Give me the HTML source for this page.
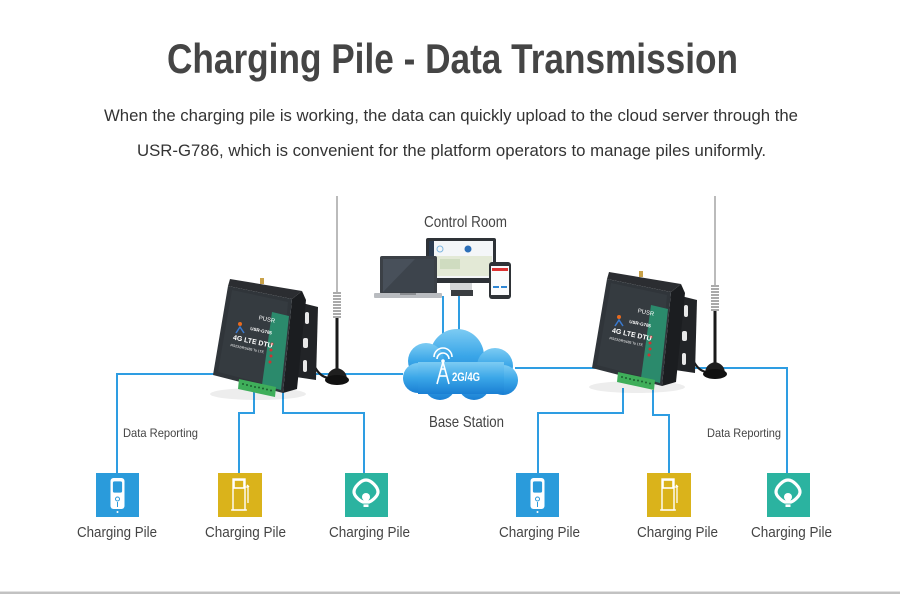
<!DOCTYPE html>
<html><head><meta charset="utf-8">
<style>
html,body{margin:0;padding:0;background:#fff;}
body{width:900px;height:597px;overflow:hidden;}
svg{display:block;}
text{font-family:"Liberation Sans",Arial,sans-serif;}
</style></head>
<body>
<svg width="900" height="597" viewBox="0 0 900 597" xmlns="http://www.w3.org/2000/svg">
<defs>
<linearGradient id="cg" x1="0" y1="0" x2="0" y2="1">
<stop offset="0" stop-color="#7ccbf3"/><stop offset="0.5" stop-color="#3aa6e8"/><stop offset="1" stop-color="#1a7fd3"/>
</linearGradient>
</defs>
<rect x="0" y="0" width="900" height="597" fill="#fff"/>
<rect x="0" y="591" width="900" height="1" fill="#e2e2e2"/>
<rect x="0" y="592" width="900" height="2" fill="#c2c2c2"/>

<!-- Title -->
<text x="167" y="73" font-size="42" font-weight="bold" fill="#454545" textLength="571" lengthAdjust="spacingAndGlyphs">Charging Pile - Data Transmission</text>
<text x="104" y="121" font-size="17" fill="#333" textLength="694" lengthAdjust="spacingAndGlyphs">When the charging pile is working, the data can quickly upload to the cloud server through the</text>
<text x="137" y="156" font-size="17" fill="#333" textLength="629" lengthAdjust="spacingAndGlyphs">USR-G786, which is convenient for the platform operators to manage piles uniformly.</text>

<!-- Connector lines -->
<g stroke="#2e9de2" stroke-width="2" fill="none">
<polyline points="117,473 117,374 403,374"/>
<polyline points="254,390 254,413 239,413 239,473"/>
<polyline points="283,392 283,413 364,413 364,473"/>
<line x1="443" y1="296" x2="443" y2="336"/>
<line x1="459" y1="296" x2="459" y2="334"/>
<polyline points="515,368 787,368 787,473"/>
<polyline points="623,388 623,413 538,413 538,473"/>
<polyline points="653,390 653,415 669,415 669,473"/>
</g>

<!-- Control Room -->
<text x="424" y="227" font-size="16" fill="#444" textLength="83" lengthAdjust="spacingAndGlyphs">Control Room</text>
<rect x="426" y="238" width="70" height="45" rx="2" fill="#2e3237"/>
<rect x="429" y="241" width="64" height="37" fill="#f4f6f8"/>
<rect x="429" y="241" width="5" height="37" fill="#2b3a4e"/>
<rect x="436" y="256" width="56" height="20" fill="#e3e9d6"/>
<rect x="440" y="259" width="20" height="10" fill="#cfdcc0"/>
<circle cx="440" cy="249" r="3" fill="none" stroke="#7fb7e0" stroke-width="1"/>
<circle cx="468" cy="249" r="3.5" fill="#2c6fb8"/>
<rect x="450" y="283" width="22" height="7" fill="#d4d6d8"/>
<rect x="451" y="290" width="22" height="6" fill="#3a3d41"/>
<rect x="380" y="256" width="57" height="38" rx="2" fill="#3b4046"/>
<rect x="383" y="259" width="51" height="33" fill="#48505a"/>
<polygon points="383,292 415,259 434,259 434,292" fill="#3d444c"/>
<rect x="374" y="293" width="68" height="5" rx="1" fill="#b9bcc0"/>
<rect x="400" y="293" width="16" height="2" fill="#8a8d91"/>
<rect x="489" y="262" width="22" height="37" rx="3" fill="#2f3337"/>
<rect x="491" y="266" width="18" height="29" fill="#fafbfc"/>
<rect x="492" y="268" width="16" height="3" fill="#d33"/>
<rect x="493" y="286" width="6" height="2" fill="#2e86d4"/>
<rect x="501" y="286" width="6" height="2" fill="#2e86d4"/>

<!-- Cloud -->
<g fill="url(#cg)">
<circle cx="457" cy="356" r="27"/>
<circle cx="426" cy="361" r="18"/>
<circle cx="495" cy="366" r="18"/>
<circle cx="418" cy="378" r="15"/>
<circle cx="503" cy="380" r="15"/>
<circle cx="440" cy="384" r="16"/>
<circle cx="474" cy="384" r="16"/>
<rect x="418" y="362" width="86" height="32"/>
</g>
<g stroke="#fff" fill="none" stroke-width="1.6">
<path d="M437,359 a6,6 0 0 1 12,0"/>
<path d="M434,357 a9,9 0 0 1 18,0"/>
<polyline points="437,384 443,362 449,384"/>
<line x1="439" y1="376" x2="447" y2="376"/>
<line x1="441" y1="369" x2="445" y2="369"/>
</g>
<circle cx="443" cy="361" r="1.8" fill="#fff"/>
<text x="452" y="381" font-size="12" font-weight="bold" fill="#fff" textLength="28" lengthAdjust="spacingAndGlyphs">2G/4G</text>
<text x="429" y="427" font-size="16" fill="#444" textLength="75" lengthAdjust="spacingAndGlyphs">Base Station</text>

<!-- Left antenna -->
<line x1="337" y1="196" x2="337" y2="292" stroke="#777" stroke-width="1"/>
<g stroke="#777" stroke-width="1.3" fill="none">
<path d="M333,293 h8 M333,296 h8 M333,299 h8 M333,302 h8 M333,305 h8 M333,308 h8 M333,311 h8 M333,314 h8 M333,317 h8"/>
</g>
<rect x="335.5" y="318" width="3" height="52" fill="#1a1a1a"/>
<path d="M305,340 C312,365 318,378 330,378" stroke="#1a1a1a" stroke-width="2.2" fill="none"/>
<path d="M327,380 q0,-10 10,-12 q10,2 10,12 z" fill="#1f1f1f"/>
<ellipse cx="337" cy="380" rx="12" ry="5" fill="#111"/>

<!-- Right antenna -->
<line x1="715" y1="196" x2="715" y2="285" stroke="#777" stroke-width="1"/>
<g stroke="#777" stroke-width="1.3" fill="none">
<path d="M711,286 h8 M711,289 h8 M711,292 h8 M711,295 h8 M711,298 h8 M711,301 h8 M711,304 h8 M711,307 h8 M711,310 h8"/>
</g>
<rect x="713.5" y="311" width="3" height="52" fill="#1a1a1a"/>
<path d="M686,334 C690,358 696,372 708,372" stroke="#1a1a1a" stroke-width="2.2" fill="none"/>
<path d="M705,374 q0,-10 10,-12 q10,2 10,12 z" fill="#1f1f1f"/>
<ellipse cx="715" cy="374" rx="12" ry="5" fill="#111"/>

<!-- Left device -->
<g>
<ellipse cx="258" cy="394" rx="48" ry="6" fill="#000" opacity="0.07"/>
<polygon points="298,302 318,307 316,380 296,377" fill="#222427"/>
<rect x="305" y="312" width="4" height="12" rx="2" fill="#e8e8e8"/>
<rect x="303" y="338" width="5" height="10" rx="2" fill="#e8e8e8"/>
<rect x="303" y="360" width="4" height="12" rx="2" fill="#e8e8e8"/>
<polygon points="292,299 302,291 306,300 297,389 283,393" fill="#1b1d20"/>
<polygon points="230,279 302,291 292,299 228,286" fill="#2b2d31"/>
<polygon points="228,286 292,299 283,393 213,375" fill="#30353a"/>
<polygon points="232,290 288,302 280,388 218,372" fill="#353b40"/>
<polygon points="272,312 289,316 281,390 262,385" fill="#2b8a6c"/>
<rect x="260" y="278" width="4" height="6" fill="#c9a24a"/>
<circle cx="272" cy="344" r="1.5" fill="#c33"/>
<circle cx="271" cy="350" r="1.5" fill="#c33"/>
<circle cx="271" cy="356" r="1.5" fill="#c33"/>
<circle cx="270" cy="362" r="1.5" fill="#c33"/>
<circle cx="240" cy="324" r="2" fill="#e86a1e"/>
<path d="M236,333 l4,-6 l4,6" stroke="#3a7ad0" stroke-width="1.5" fill="none"/>
<g transform="rotate(12 250 335)" fill="#fff">
<text x="255" y="318" font-size="6" font-family="Liberation Serif,serif">PUSR</text>
<text x="249" y="330" font-size="4.5" font-weight="bold">USR-G786</text>
<text x="234" y="343" font-size="7" font-weight="bold">4G LTE DTU</text>
<text x="233" y="350" font-size="3.5">RS232/RS485 To LTE</text>
</g>
<polygon points="239,379 276,387 275,397 238,389" fill="#3fae5a"/>
<g fill="#1d5e30">
<circle cx="243" cy="384" r="1"/><circle cx="247" cy="385" r="1"/><circle cx="251" cy="386" r="1"/><circle cx="255" cy="387" r="1"/><circle cx="259" cy="387.5" r="1"/><circle cx="263" cy="388.5" r="1"/><circle cx="267" cy="389.5" r="1"/><circle cx="271" cy="390.5" r="1"/>
</g>
</g>

<!-- Right device -->
<g transform="translate(379,-7)">
<ellipse cx="258" cy="394" rx="48" ry="6" fill="#000" opacity="0.07"/>
<polygon points="298,302 318,307 316,380 296,377" fill="#222427"/>
<rect x="305" y="312" width="4" height="12" rx="2" fill="#e8e8e8"/>
<rect x="303" y="338" width="5" height="10" rx="2" fill="#e8e8e8"/>
<rect x="303" y="360" width="4" height="12" rx="2" fill="#e8e8e8"/>
<polygon points="292,299 302,291 306,300 297,389 283,393" fill="#1b1d20"/>
<polygon points="230,279 302,291 292,299 228,286" fill="#2b2d31"/>
<polygon points="228,286 292,299 283,393 213,375" fill="#30353a"/>
<polygon points="232,290 288,302 280,388 218,372" fill="#353b40"/>
<polygon points="272,312 289,316 281,390 262,385" fill="#2b8a6c"/>
<rect x="260" y="278" width="4" height="6" fill="#c9a24a"/>
<circle cx="272" cy="344" r="1.5" fill="#c33"/>
<circle cx="271" cy="350" r="1.5" fill="#c33"/>
<circle cx="271" cy="356" r="1.5" fill="#c33"/>
<circle cx="270" cy="362" r="1.5" fill="#c33"/>
<circle cx="240" cy="324" r="2" fill="#e86a1e"/>
<path d="M236,333 l4,-6 l4,6" stroke="#3a7ad0" stroke-width="1.5" fill="none"/>
<g transform="rotate(12 250 335)" fill="#fff">
<text x="255" y="318" font-size="6" font-family="Liberation Serif,serif">PUSR</text>
<text x="249" y="330" font-size="4.5" font-weight="bold">USR-G786</text>
<text x="234" y="343" font-size="7" font-weight="bold">4G LTE DTU</text>
<text x="233" y="350" font-size="3.5">RS232/RS485 To LTE</text>
</g>
<polygon points="239,379 276,387 275,397 238,389" fill="#3fae5a"/>
<g fill="#1d5e30">
<circle cx="243" cy="384" r="1"/><circle cx="247" cy="385" r="1"/><circle cx="251" cy="386" r="1"/><circle cx="255" cy="387" r="1"/><circle cx="259" cy="387.5" r="1"/><circle cx="263" cy="388.5" r="1"/><circle cx="267" cy="389.5" r="1"/><circle cx="271" cy="390.5" r="1"/>
</g>
</g>

<!-- Data Reporting labels -->
<text x="123" y="437" font-size="12" fill="#444" textLength="75" lengthAdjust="spacingAndGlyphs">Data Reporting</text>
<text x="707" y="437" font-size="12" fill="#444" textLength="74" lengthAdjust="spacingAndGlyphs">Data Reporting</text>

<!-- Icons: blue -->
<g>
<rect x="96" y="473" width="43" height="44" fill="#2a9bdb"/>
<rect x="110.5" y="478" width="14" height="31" rx="3" fill="#fff"/>
<rect x="112.5" y="481" width="10" height="12" rx="2" fill="#2a9bdb" stroke="#fff" stroke-width="0.8"/>
<circle cx="117.5" cy="499" r="2" fill="none" stroke="#2a9bdb" stroke-width="1"/>
<line x1="117.5" y1="502" x2="117.5" y2="507" stroke="#2a9bdb" stroke-width="1"/>
<circle cx="117.5" cy="512" r="1" fill="#fff"/>
</g>
<g>
<rect x="516" y="473" width="43" height="44" fill="#2a9bdb"/>
<rect x="530.5" y="478" width="14" height="31" rx="3" fill="#fff"/>
<rect x="532.5" y="481" width="10" height="12" rx="2" fill="#2a9bdb" stroke="#fff" stroke-width="0.8"/>
<circle cx="537.5" cy="499" r="2" fill="none" stroke="#2a9bdb" stroke-width="1"/>
<line x1="537.5" y1="502" x2="537.5" y2="507" stroke="#2a9bdb" stroke-width="1"/>
<circle cx="537.5" cy="512" r="1" fill="#fff"/>
</g>
<!-- Icons: yellow -->
<g>
<rect x="218" y="473" width="44" height="44" fill="#dab31b"/>
<rect x="233" y="479" width="12" height="31" fill="none" stroke="#fff" stroke-width="1.4"/>
<rect x="234" y="480" width="10" height="8" fill="none" stroke="#fff" stroke-width="1.6"/>
<path d="M245,487 h3 v16 M247,485 l2,2" stroke="#fff" stroke-width="1.3" fill="none"/>
<line x1="231" y1="510" x2="247" y2="510" stroke="#fff" stroke-width="1.3"/>
</g>
<g>
<rect x="647" y="473" width="44" height="44" fill="#dab31b"/>
<rect x="662" y="479" width="12" height="31" fill="none" stroke="#fff" stroke-width="1.4"/>
<rect x="663" y="480" width="10" height="8" fill="none" stroke="#fff" stroke-width="1.6"/>
<path d="M674,487 h3 v16 M676,485 l2,2" stroke="#fff" stroke-width="1.3" fill="none"/>
<line x1="660" y1="510" x2="676" y2="510" stroke="#fff" stroke-width="1.3"/>
</g>
<!-- Icons: teal -->
<g>
<rect x="345" y="473" width="43" height="44" fill="#2bb3a0"/>
<path d="M366,480 C371,480 378,487 378,492 C378,496 372,501 369,502 L363,502 C360,501 354,496 354,492 C354,487 361,480 366,480 Z" fill="none" stroke="#fff" stroke-width="3.2"/>
<circle cx="366" cy="497" r="4" fill="#fff"/>
<rect x="363.5" y="500" width="5" height="7" fill="#fff"/>
<line x1="363.5" y1="504" x2="368.5" y2="504" stroke="#2bb3a0" stroke-width="0.8"/>
</g>
<g>
<rect x="767" y="473" width="43" height="44" fill="#2bb3a0"/>
<path d="M788,480 C793,480 800,487 800,492 C800,496 794,501 791,502 L785,502 C782,501 776,496 776,492 C776,487 783,480 788,480 Z" fill="none" stroke="#fff" stroke-width="3.2"/>
<circle cx="788" cy="497" r="4" fill="#fff"/>
<rect x="785.5" y="500" width="5" height="7" fill="#fff"/>
<line x1="785.5" y1="504" x2="790.5" y2="504" stroke="#2bb3a0" stroke-width="0.8"/>
</g>

<!-- Charging Pile labels -->
<g font-size="15" fill="#444">
<text x="77" y="537" textLength="80" lengthAdjust="spacingAndGlyphs">Charging Pile</text>
<text x="205" y="537" textLength="81" lengthAdjust="spacingAndGlyphs">Charging Pile</text>
<text x="329" y="537" textLength="81" lengthAdjust="spacingAndGlyphs">Charging Pile</text>
<text x="499" y="537" textLength="81" lengthAdjust="spacingAndGlyphs">Charging Pile</text>
<text x="637" y="537" textLength="81" lengthAdjust="spacingAndGlyphs">Charging Pile</text>
<text x="751" y="537" textLength="81" lengthAdjust="spacingAndGlyphs">Charging Pile</text>
</g>
</svg>
</body></html>
